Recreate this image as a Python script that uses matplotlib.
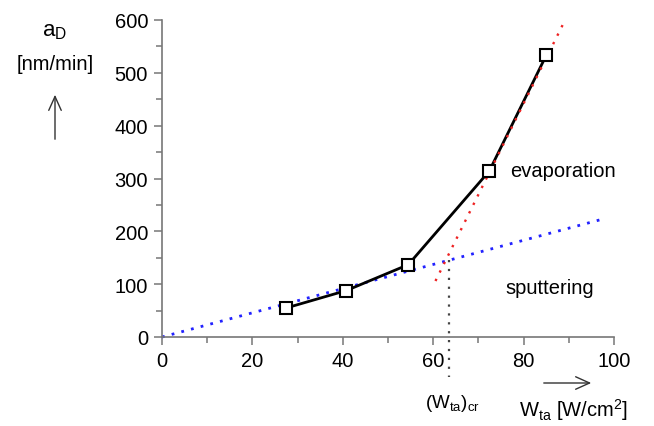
import numpy as np
import matplotlib.pyplot as plt
from matplotlib.patches import FancyArrowPatch

plt.rcParams['font.family'] = ['Liberation Sans', 'DejaVu Sans']

# measured points
w_ta = [27.5, 40.8, 54.5, 72.4, 85.0]
a_d = [55, 88, 137, 314, 533]

# fit lines
sput_x = [0, 97]
sput_y = [0, 222]
evap_x = [60.5, 89.3]
evap_y = [106, 602]
w_cr = 63.5
a_cr = 145

fig = plt.figure(figsize=(6.54, 4.27), dpi=100)
ax = fig.add_axes([162/654, 1 - 338/427, 452/654, 317/427])

dots = (0, (1, 2.6))
ax.plot(sput_x, sput_y, linestyle=dots, color='#2222ff', lw=2.0, clip_on=False, zorder=2)
ax.plot(evap_x, evap_y, linestyle=(0, (1, 3)), color='#ee2222', lw=1.7, clip_on=False, zorder=3.5)
ax.plot([w_cr, w_cr], [a_cr, -75], linestyle=(0, (1, 3)), color='#444444', lw=1.6, clip_on=False, zorder=2)
ax.plot(w_ta, a_d, '-', color='black', lw=2.0, zorder=3)
ax.plot(w_ta, a_d, 's', ms=9, mfc='white', mec='black', mew=1.5, zorder=4)

ax.set_xlim(0, 100)
ax.set_ylim(0, 600)
ax.set_xticks(range(0, 101, 20))
ax.set_xticks(range(0, 101, 10), minor=True)
ax.set_yticks(range(0, 601, 100))
ax.set_yticks(range(0, 601, 50), minor=True)
for s in ['top', 'right']:
    ax.spines[s].set_visible(False)
for s in ['left', 'bottom']:
    ax.spines[s].set_color('#777777')
    ax.spines[s].set_linewidth(1.2)
ax.tick_params(which='major', length=6, width=1.1, color='#777777', labelsize=14.5, direction='out', pad=4)
ax.tick_params(which='minor', length=4, width=1.1, color='#777777', direction='out')

ax.text(77, 315, 'evaporation', fontsize=14.5, va='center', ha='left')
ax.text(76, 93, 'sputtering', fontsize=14.5, va='center', ha='left')

# axis labels outside the axes
fig.text(452/654, 1 - 404/427, r'(W$_{\mathregular{ta}}$)$_{\mathregular{cr}}$', fontsize=13.5, ha='center', va='center')
fig.text(519/654, 1 - 410/427, r'W$_{\mathregular{ta}}$ [W/cm$^{\mathregular{2}}$]', fontsize=14.5, ha='left', va='center')
fig.text(55/654, 1 - 32/427, r'a$_{\mathregular{D}}$', fontsize=16, ha='center', va='center')
fig.text(55/654, 1 - 65/427, '[nm/min]', fontsize=14.5, ha='center', va='center')
fig.patches.append(FancyArrowPatch(
    (541/654, 1 - 384/427), (594/654, 1 - 384/427), transform=fig.transFigure,
    arrowstyle='->,head_length=10,head_width=4.5', color='#333333', lw=1.0))
fig.patches.append(FancyArrowPatch(
    (55/654, 1 - 143/427), (55/654, 1 - 93/427), transform=fig.transFigure,
    arrowstyle='->,head_length=10,head_width=4.5', color='#333333', lw=1.0))

fig.savefig('out.png', dpi=100)
